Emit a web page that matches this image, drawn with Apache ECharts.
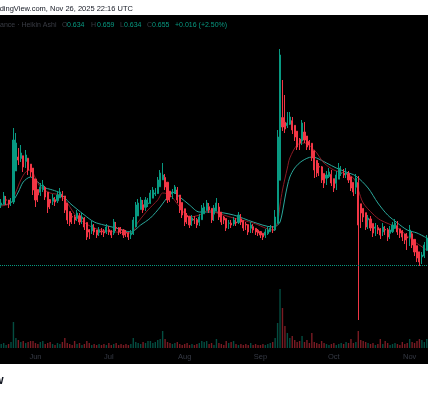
<!DOCTYPE html>
<html><head><meta charset="utf-8">
<script src="https://cdn.jsdelivr.net/npm/echarts@6/dist/echarts.min.js"></script>
<style>
html,body{margin:0;padding:0;background:#fff;}
#bg{position:absolute;left:0;top:15px;width:428px;height:349px;background:#000;}
#c{position:absolute;left:0;top:0;width:428px;height:400px;}
</style>
</head><body><div id="bg"></div><div id="c"></div>
<script>
// ---- data (daily Heikin Ashi candles from 2025-05-18, visible through 2025-11-08) ----
const startDate = '2025-05-18';
const totalDays = 175;
const monthNames = ['Jan','Feb','Mar','Apr','May','Jun','Jul','Aug','Sep','Oct','Nov','Dec'];
const haOpenFirst = 1.265;
const haClose = [
1.285,1.355,1.315,1.275,1.295,1.915,1.885,1.715,1.785,1.645,
1.765,1.615,1.595,1.415,1.315,1.365,1.445,1.465,1.345,1.245,
1.285,1.335,1.295,1.365,1.395,1.345,1.215,1.115,1.095,1.145,
1.115,1.185,1.095,1.145,1.045,0.945,0.995,1.065,0.995,0.965,
1.015,0.995,0.985,1.045,0.995,0.965,1.095,1.035,0.995,1.015,
0.965,0.985,0.945,0.985,1.115,1.265,1.285,1.315,1.215,1.315,
1.285,1.385,1.415,1.385,1.515,1.585,1.565,1.445,1.315,1.345,
1.395,1.445,1.315,1.215,1.165,1.095,1.145,1.065,1.135,1.115,
1.065,1.145,1.235,1.245,1.285,1.215,1.115,1.235,1.285,1.145,
1.095,1.115,1.035,1.085,1.065,1.115,1.085,1.165,1.095,1.035,
1.065,0.995,1.065,1.015,0.995,0.985,0.965,0.945,0.995,1.015,
1.035,1.015,1.145,1.945,2.765,2.045,2.025,2.085,2.145,2.015,
1.945,1.845,1.885,2.085,1.915,1.845,1.865,1.735,1.615,1.585,
1.645,1.515,1.485,1.565,1.595,1.485,1.435,1.565,1.635,1.585,
1.565,1.585,1.515,1.435,1.395,1.535,1.065,1.185,1.145,1.045,
1.135,1.035,0.985,1.045,1.015,0.965,1.045,1.015,0.945,1.015,
1.065,1.085,0.995,0.985,0.945,0.915,0.935,1.015,0.865,0.795,
0.735,0.695,0.765,0.865,0.935
];
const haLow = [
1.235,1.275,1.265,1.235,1.255,1.275,1.815,1.665,1.695,1.595,
1.635,1.565,1.545,1.365,1.245,1.295,1.355,1.395,1.315,1.185,
1.225,1.265,1.255,1.285,1.335,1.305,1.185,1.075,1.055,1.075,
1.075,1.105,1.065,1.075,1.015,0.915,0.925,0.975,0.965,0.935,
0.955,0.965,0.945,0.975,0.965,0.935,0.965,1.005,0.965,0.975,
0.935,0.945,0.915,0.925,0.965,1.095,1.235,1.255,1.185,1.205,
1.245,1.275,1.355,1.355,1.375,1.495,1.515,1.415,1.285,1.295,
1.325,1.375,1.285,1.185,1.135,1.055,1.075,1.035,1.055,1.075,
1.035,1.055,1.125,1.205,1.225,1.185,1.085,1.105,1.215,1.115,
1.065,1.075,1.005,1.025,1.035,1.055,1.055,1.075,1.065,1.005,
1.015,0.965,0.985,0.985,0.965,0.955,0.935,0.915,0.935,0.965,
0.995,0.985,1.005,1.115,1.915,2.005,1.985,2.035,2.065,1.975,
1.905,1.815,1.815,1.865,1.885,1.815,1.815,1.705,1.535,1.545,
1.555,1.485,1.435,1.465,1.535,1.455,1.395,1.415,1.545,1.555,
1.535,1.535,1.485,1.405,1.355,1.375,0.115,1.035,1.095,1.015,
1.025,1.005,0.945,0.955,0.975,0.925,0.955,0.965,0.905,0.925,
0.985,1.025,0.965,0.935,0.905,0.875,0.815,0.855,0.835,0.755,
0.695,0.655,0.675,0.735,0.815
];
const haHigh = [
1.325,1.395,1.355,1.315,1.335,2.035,1.985,1.835,1.865,1.715,
1.815,1.695,1.655,1.595,1.415,1.415,1.485,1.515,1.455,1.355,
1.325,1.375,1.345,1.405,1.435,1.405,1.355,1.235,1.145,1.185,
1.165,1.215,1.185,1.185,1.145,1.055,1.025,1.105,1.075,1.015,
1.045,1.035,1.025,1.075,1.055,1.015,1.125,1.095,1.045,1.045,
1.025,1.015,0.995,1.015,1.145,1.295,1.325,1.345,1.315,1.345,
1.335,1.415,1.445,1.435,1.545,1.615,1.685,1.575,1.455,1.385,
1.425,1.465,1.445,1.325,1.235,1.175,1.185,1.155,1.165,1.155,
1.135,1.175,1.265,1.285,1.315,1.285,1.225,1.265,1.335,1.285,
1.165,1.155,1.125,1.115,1.115,1.145,1.135,1.195,1.175,1.115,
1.095,1.075,1.095,1.075,1.035,1.025,1.005,0.985,1.025,1.045,
1.065,1.055,1.215,2.015,2.825,2.515,2.365,2.195,2.195,2.145,
2.035,1.965,1.935,2.115,2.095,1.945,1.915,1.885,1.765,1.655,
1.685,1.655,1.545,1.605,1.635,1.615,1.515,1.605,1.685,1.655,
1.625,1.635,1.605,1.535,1.465,1.575,1.555,1.235,1.215,1.175,
1.165,1.155,1.055,1.085,1.065,1.035,1.085,1.055,1.035,1.055,
1.095,1.125,1.105,1.025,1.015,0.975,0.985,1.065,0.995,0.875,
0.815,0.765,0.795,0.895,0.965
];
const volume = [
4,5,3,4,6,26,10,8,6,7,
5,6,7,7,5,4,6,7,4,5,
6,4,3,5,4,6,10,5,4,3,
7,4,5,3,4,7,5,3,4,3,
4,3,4,3,5,3,4,5,3,4,
3,4,3,4,10,6,5,4,6,5,
7,7,5,6,8,9,17,9,6,5,
4,5,6,4,3,4,5,3,4,3,
4,5,7,6,7,4,5,3,9,5,
4,3,7,5,6,7,4,3,4,3,
4,3,5,3,4,3,3,4,3,4,
5,6,10,25,59,40,22,15,10,12,
8,6,7,12,6,8,5,15,6,5,
4,7,5,4,3,4,5,3,4,5,
4,6,5,9,5,6,17,8,7,6,
5,4,5,3,4,9,4,7,5,3,
4,5,4,3,6,4,5,9,6,5,
7,9,8,6,9
];
// moving averages read at sample days: [dayIndex, value]
const maSlow = [
[0,1.265],[4,1.285],[7,1.395],[9,1.495],[12,1.545],[15,1.495],[17,1.445],[21,1.415],[24,1.385],[28,1.285],
[34,1.165],[38,1.095],[42,1.065],[47,1.035],[53,0.995],[57,1.065],[61,1.135],[65,1.245],[68,1.345],[70,1.395],
[73,1.345],[77,1.265],[81,1.195],[87,1.195],[95,1.165],[103,1.095],[111,1.045],[113,1.065],[114,1.095],[115,1.195],
[116,1.335],[117,1.455],[118,1.545],[120,1.635],[123,1.705],[127,1.745],[129,1.735],[133,1.685],[137,1.635],[141,1.595],
[145,1.555],[150,1.435],[154,1.285],[158,1.165],[162,1.085],[166,1.015],[170,0.985],[174,0.935]
];
const maFast = [
[0,1.255],[4,1.285],[6,1.395],[8,1.515],[10,1.595],[12,1.615],[14,1.535],[16,1.445],[20,1.385],[24,1.365],
[27,1.285],[31,1.145],[37,1.045],[41,1.015],[47,0.995],[53,0.985],[56,1.095],[60,1.215],[64,1.315],[66,1.385],
[69,1.365],[73,1.245],[77,1.145],[81,1.165],[85,1.215],[87,1.195],[95,1.135],[103,1.085],[111,1.015],[113,1.095],
[114,1.265],[115,1.415],[117,1.635],[118,1.735],[121,1.865],[124,1.885],[128,1.815],[132,1.685],[136,1.615],[140,1.585],
[144,1.535],[146,1.415],[148,1.285],[152,1.175],[155,1.115],[162,1.035],[168,0.915],[174,0.815]
];
const lastPrice = 0.655;
const headerText = 'TradingView.com, Nov 26, 2025 22:16 UTC';
const symbolText = 'Binance · Heikin Ashi';
const ohlcLabels = ['O','H','L','C'];
const ohlcValues = ['0.634','0.659','0.634','0.655'];
const changeText = '+0.016 (+2.50%)';

// ---- build ----
const UP = '#089981', DOWN = '#f23645';
const cats = [];
const d0 = new Date(startDate + 'T00:00:00Z');
for (let i = 0; i < totalDays; i++) {
  const d = new Date(d0.getTime() + i * 86400000);
  cats.push(d.toISOString().slice(0, 10));
}
const candles = [], vols = [];
let prevO = null, prevC = null;
for (let i = 0; i < totalDays; i++) {
  const o = i === 0 ? haOpenFirst : (prevO + prevC) / 2; // Heikin Ashi open
  const c = haClose[i];
  candles.push([o, c, Math.min(haLow[i], o, c), Math.max(haHigh[i], o, c)]);
  vols.push({ value: volume[i], itemStyle: { color: c >= o ? 'rgba(8,153,129,0.5)' : 'rgba(242,54,69,0.5)' } });
  prevO = o; prevC = c;
}

const chart = echarts.init(document.getElementById('c'), null, { renderer: 'canvas' });
const txt = (text, x, y, fill, font, align) => ({
  type: 'text', x: x, y: y, z: 100,
  style: { text: text, fill: fill, font: font, align: align || 'left', verticalAlign: 'middle' }
});
const legendFont = '7px "Liberation Sans", Arial, sans-serif';
chart.setOption({
  animation: false,
  backgroundColor: 'transparent',
  grid: [
    { left: -0.5, width: 428.5, top: 15, height: 316.5 },
    { left: -0.5, width: 428.5, top: 248, height: 100 }
  ],
  xAxis: [
    { type: 'category', data: cats, gridIndex: 0, show: false, boundaryGap: true },
    { type: 'category', data: cats, gridIndex: 1, boundaryGap: true,
      axisLine: { show: false }, axisTick: { show: false }, splitLine: { show: false },
      axisLabel: {
        interval: (idx, val) => val.slice(8) === '01',
        formatter: (val) => monthNames[parseInt(val.slice(5, 7), 10) - 1],
        color: '#363a45', fontSize: 7.5, margin: 4.5,
        fontFamily: '"Liberation Sans", Arial, sans-serif'
      } }
  ],
  yAxis: [
    { type: 'value', gridIndex: 0, min: 0, max: 3.165, show: false },
    { type: 'value', gridIndex: 1, min: 0, max: 100, show: false }
  ],
  series: [
    { type: 'bar', xAxisIndex: 1, yAxisIndex: 1, data: vols, barWidth: 1.4, silent: true, z: 1 },
    { type: 'line', xAxisIndex: 0, yAxisIndex: 0, data: maSlow, showSymbol: false, smooth: 0.3,
      lineStyle: { color: '#2aa79b', width: 1 }, z: 3, silent: true },
    { type: 'line', xAxisIndex: 0, yAxisIndex: 0, data: maFast, showSymbol: false, smooth: 0.3,
      lineStyle: { color: '#8a1a24', width: 1 }, z: 3, silent: true },
    { type: 'candlestick', xAxisIndex: 0, yAxisIndex: 0, data: candles, barWidth: 1.6, clip: false, z: 4,
      itemStyle: { color: UP, color0: DOWN, borderColor: UP, borderColor0: DOWN, borderWidth: 1 },
      markLine: { silent: true, symbol: 'none', label: { show: false },
        lineStyle: { color: UP, type: 'dotted', width: 1 },
        data: [{ yAxis: lastPrice }] } }
  ],
  graphic: [
    txt(headerText, -11.3, 9, '#131722', '7.5px "Liberation Sans", Arial, sans-serif'),
    txt(symbolText, -10.1, 25, '#3a3d45', legendFont),
    txt(ohlcLabels[0], 62, 25, '#3a3d45', legendFont),
    txt(ohlcValues[0], 67, 25, UP, legendFont),
    txt(ohlcLabels[1], 91, 25, '#3a3d45', legendFont),
    txt(ohlcValues[1], 97, 25, UP, legendFont),
    txt(ohlcLabels[2], 120, 25, '#3a3d45', legendFont),
    txt(ohlcValues[2], 124, 25, UP, legendFont),
    txt(ohlcLabels[3], 147, 25, '#3a3d45', legendFont),
    txt(ohlcValues[3], 152, 25, UP, legendFont),
    txt(changeText, 175, 25, UP, legendFont),
    txt('TradingView', 3.5, 381, '#131722', 'bold 12px "Liberation Sans", Arial, sans-serif', 'right')
  ]
});
</script>
</body></html>
